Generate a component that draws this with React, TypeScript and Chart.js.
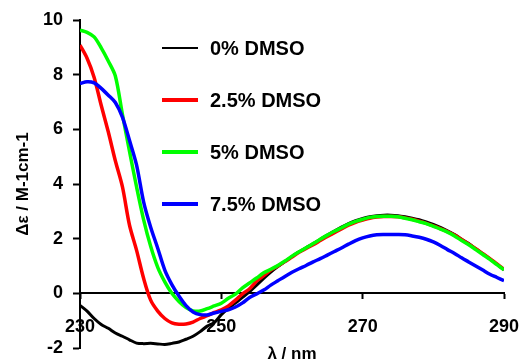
import React, { useEffect, useRef } from "react";
import { Chart, registerables } from "chart.js";

Chart.register(...registerables);

const WAVELENGTHS = [
  230, 231, 232, 233, 234, 235, 236, 237, 238, 239,
  240, 241, 242, 243, 244, 245, 246, 247, 248, 249,
  250, 251, 252, 253, 254, 255, 256, 257, 258, 259,
  260, 261, 262, 263, 264, 265, 266, 267, 268, 269,
  270, 271, 272, 273, 274, 275, 276, 277, 278, 279,
  280, 281, 282, 283, 284, 285, 286, 287, 288, 289, 290,
];

const DMSO_0 = [
  -0.44, -0.65, -0.92, -1.14, -1.28, -1.45, -1.57, -1.7, -1.82, -1.84,
  -1.83, -1.85, -1.87, -1.83, -1.78, -1.68, -1.57, -1.4, -1.2, -1.07,
  -0.78, -0.55, -0.35, -0.15, 0.06, 0.3, 0.55, 0.78, 0.98, 1.16,
  1.35, 1.52, 1.67, 1.82, 1.98, 2.13, 2.28, 2.42, 2.55, 2.66,
  2.74, 2.8, 2.84, 2.86, 2.86, 2.84, 2.8, 2.75, 2.69, 2.61,
  2.52, 2.41, 2.29, 2.15, 1.98, 1.82, 1.63, 1.45, 1.26, 1.06, 0.86,
];

const DMSO_25 = [
  9.08, 8.6, 7.9, 6.88, 5.91, 4.85, 3.9, 2.5, 1.58, 0.55,
  -0.25, -0.65, -0.92, -1.08, -1.13, -1.12, -1.05, -0.92, -0.82, -0.7,
  -0.6, -0.46, -0.25, -0.02, 0.17, 0.45, 0.65, 0.85, 1.0, 1.16,
  1.33, 1.5, 1.64, 1.78, 1.93, 2.08, 2.22, 2.36, 2.49, 2.6,
  2.68, 2.75, 2.79, 2.81, 2.81, 2.8, 2.76, 2.71, 2.64, 2.56,
  2.47, 2.37, 2.26, 2.13, 1.97, 1.8, 1.63, 1.45, 1.27, 1.08, 0.88,
];

const DMSO_5 = [
  9.63, 9.55, 9.38, 8.98, 8.5, 7.95, 6.55, 5.2, 3.9, 2.7,
  1.72, 0.95, 0.42, 0.0, -0.3, -0.52, -0.64, -0.65, -0.56, -0.46,
  -0.36, -0.18, -0.03, 0.2, 0.38, 0.56, 0.75, 0.88, 1.02, 1.18,
  1.36, 1.52, 1.67, 1.82, 1.98, 2.13, 2.27, 2.4, 2.53, 2.63,
  2.71, 2.78, 2.81, 2.82, 2.82, 2.8, 2.75, 2.69, 2.62, 2.55,
  2.45, 2.35, 2.24, 2.1, 1.93, 1.78, 1.6, 1.42, 1.24, 1.05, 0.86,
];

const DMSO_75 = [
  7.68, 7.74, 7.7, 7.5, 7.25, 6.98, 6.45, 5.6, 4.7, 3.35,
  2.42, 1.65, 0.85, 0.32, -0.1, -0.45, -0.68, -0.78, -0.79, -0.72,
  -0.66, -0.6, -0.5, -0.35, -0.15, -0.02, 0.12, 0.3, 0.46, 0.62,
  0.77, 0.9, 1.02, 1.15, 1.27, 1.4, 1.53, 1.66, 1.8, 1.93,
  2.03, 2.1, 2.14, 2.15, 2.15, 2.15, 2.14, 2.1, 2.05, 1.98,
  1.88, 1.75, 1.6, 1.46, 1.3, 1.15, 1.0, 0.85, 0.7, 0.58, 0.46,
];

const SERIES_LABELS = ["0% DMSO", "2.5% DMSO", "5% DMSO", "7.5% DMSO"];
const SERIES_COLORS = ["#000000", "#ff0000", "#00ff00", "#0000ff"];

const FONT = '"Liberation Sans", Arial, Helvetica, sans-serif';

const toPoints = (vals: number[]) =>
  WAVELENGTHS.map((x, i) => ({ x, y: vals[i] }));

const insideLegend = {
  id: "insideLegend",
  afterDatasetsDraw(chart: any) {
    const ctx = chart.ctx;
    ctx.save();
    ctx.font = `bold 20px ${FONT}`;
    ctx.textBaseline = "middle";
    ctx.textAlign = "left";
    chart.data.datasets.forEach((ds: any, i: number) => {
      const y = 48 + i * 52;
      ctx.beginPath();
      ctx.strokeStyle = ds.borderColor;
      ctx.lineWidth = i === 0 ? 2 : 4;
      ctx.moveTo(162, y);
      ctx.lineTo(198, y);
      ctx.stroke();
      ctx.fillStyle = "#000";
      ctx.fillText(ds.label, 210, y + 1);
    });
    ctx.restore();
  },
};

export default function App() {
  const ref = useRef<HTMLCanvasElement>(null);

  useEffect(() => {
    if (!ref.current) return;
    const seriesVals = [DMSO_0, DMSO_25, DMSO_5, DMSO_75];
    const chart = new Chart(ref.current, {
      type: "line",
      data: {
        datasets: seriesVals.map((vals, i) => ({
          label: SERIES_LABELS[i],
          data: toPoints(vals),
          borderColor: SERIES_COLORS[i],
          backgroundColor: SERIES_COLORS[i],
          borderWidth: i === 0 ? 3 : 3.5,
          pointRadius: 0,
          tension: 0.3,
          order: 4 - i,
        })),
      },
      options: {
        animation: false,
        responsive: false,
        devicePixelRatio: 1,
        layout: { padding: { top: 20, right: 16, bottom: 16, left: 0 } },
        plugins: {
          legend: { display: false },
          tooltip: { enabled: false },
        },
        scales: {
          x: {
            type: "linear",
            position: { y: 0 } as any,
            min: 230,
            max: 290,
            ticks: {
              stepSize: 20,
              padding: 18,
              color: "#000",
              font: { family: FONT, size: 18, weight: "bold" },
              maxRotation: 0,
            },
            grid: {
              drawOnChartArea: false,
              drawTicks: true,
              tickLength: 5,
              tickWidth: 2,
              tickColor: "#000",
            },
            border: { display: true, color: "#000", width: 2 },
            title: {
              display: true,
              text: "λ / nm",
              color: "#000",
              font: { family: FONT, size: 17, weight: "bold" },
              padding: { top: -12, bottom: 0 },
            },
            afterFit: (scale: any) => {
              scale.paddingLeft = 0;
              scale.paddingRight = 0;
            },
          },
          y: {
            type: "linear",
            position: "left",
            min: -2,
            max: 10,
            ticks: {
              stepSize: 2,
              padding: 10,
              color: "#000",
              font: { family: FONT, size: 18, weight: "bold" },
            },
            grid: {
              drawOnChartArea: false,
              drawTicks: true,
              tickLength: 7,
              tickWidth: 2,
              tickColor: "#000",
            },
            border: { display: true, color: "#000", width: 2 },
            title: {
              display: true,
              text: "Δε / M-1cm-1",
              color: "#000",
              font: { family: FONT, size: 17, weight: "bold" },
              padding: { top: 13, bottom: 0 },
            },
            afterFit: (scale: any) => {
              scale.width = 80;
              scale.paddingTop = 0;
              scale.paddingBottom = 0;
            },
          },
        },
      },
      plugins: [insideLegend],
    });
    return () => chart.destroy();
  }, []);

  return (
    <div style={{ position: "absolute", left: 0, top: 0, width: 520, height: 364, background: "#fff" }}>
      <canvas ref={ref} width={520} height={364} style={{ display: "block" }} />
    </div>
  );
}
